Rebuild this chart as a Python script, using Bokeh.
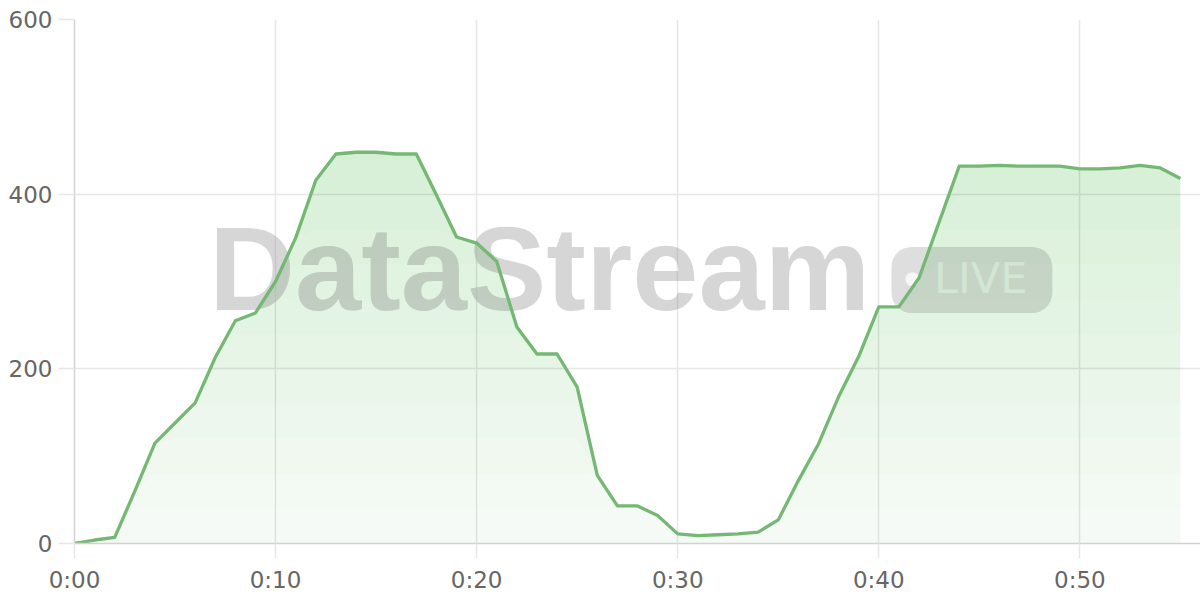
import numpy as np
from bokeh.plotting import figure
from bokeh.models import FixedTicker, Label, BoxAnnotation, ColumnDataSource
from bokeh.embed import file_html
from bokeh.resources import INLINE

# ---- data ----
minutes = list(range(56))
viewers = [0, 4, 7, 60, 115, 138, 161, 213, 255, 264,
           300, 350, 416, 446, 448, 448, 446, 446, 399, 351,
           344, 323, 248, 217, 217, 179, 78, 43, 43, 32,
           11, 9, 10, 11, 13, 27, 72, 114, 168, 214,
           271, 271, 304, 368, 432, 432, 433, 432, 432, 432,
           429, 429, 430, 433, 430, 418]
x_tick_values = [0, 10, 20, 30, 40, 50]
x_tick_labels = ["0:00", "0:10", "0:20", "0:30", "0:40", "0:50"]
y_tick_values = [0, 200, 400, 600]
watermark_text = "DataStream"
badge_text = "LIVE"

# ---- styles ----
LINE = "#74b874"
FILL = "#76b976"
GRID = "#e7e7e7"
AXIS = "#d2d2d2"
LABEL = "#666666"
FONT = "DejaVu Sans"

p = figure(width=1200, height=598, output_backend="svg", toolbar_location=None,
           x_range=(0, 56), y_range=(0, 600),
           min_border_left=74, min_border_top=19, min_border_right=0,
           min_border_bottom=55)
p.outline_line_color = None
p.background_fill_color = "white"
p.border_fill_color = "white"

# grids
p.xgrid.ticker = FixedTicker(ticks=x_tick_values)
p.ygrid.ticker = FixedTicker(ticks=y_tick_values)
for g in (p.xgrid, p.ygrid):
    g.grid_line_color = GRID
    g.grid_line_width = 1.5

# axes
p.xaxis.ticker = FixedTicker(ticks=x_tick_values)
p.xaxis.major_label_overrides = {v: l for v, l in zip(x_tick_values, x_tick_labels)}
p.yaxis.ticker = FixedTicker(ticks=y_tick_values)
for ax in (p.xaxis, p.yaxis):
    ax.axis_line_color = AXIS
    ax.axis_line_width = 1.5
    ax.major_tick_line_color = GRID
    ax.major_tick_line_width = 1.5
    ax.minor_tick_line_color = None
    ax.major_tick_in = 0
    ax.major_label_text_font = FONT
    ax.major_label_text_font_size = "23px"
    ax.major_label_text_color = LABEL
p.xaxis.major_tick_out = 15
p.xaxis.major_label_standoff = 8
p.yaxis.major_tick_out = 16
p.yaxis.major_label_standoff = 6

# ---- watermark (decoration, under the data) ----
wm = Label(x=6.69, y=315, text=watermark_text, text_font="Liberation Sans",
           text_font_style="bold", text_font_size="119px",
           text_color="#808080", text_alpha=0.32,
           text_baseline="alphabetic", text_align="left", level="underlay")
p.add_layout(wm)
badge = BoxAnnotation(left=40.63, right=48.63, bottom=264, top=339.6,
                      fill_color="#808080", fill_alpha=0.26, line_color=None,
                      border_radius=20, level="underlay")
p.add_layout(badge)
live = Label(x=42.75, y=304, text=badge_text, text_font=FONT,
             text_font_size="43px", text_color="white", text_alpha=0.6,
             text_baseline="alphabetic", text_align="left", level="underlay")
p.add_layout(live)
p.scatter(x=[41.67], y=[302.5], size=14, fill_color="white", fill_alpha=0.75,
          line_color=None)

# ---- gradient area fill (stacked translucent layers) ----
xs = np.array(minutes, dtype=float)
vs = np.array(viewers, dtype=float)
p.varea(x=xs, y1=np.zeros_like(vs), y2=vs, fill_color=FILL, fill_alpha=0.065)
for level in np.arange(40, 600, 40):
    lo = np.minimum(vs, level)
    if np.all(lo >= vs):
        continue
    p.varea(x=xs, y1=lo, y2=vs, fill_color=FILL, fill_alpha=0.02)

# ---- line ----
src = ColumnDataSource(dict(x=minutes, y=viewers))
p.line("x", "y", source=src, line_color=LINE, line_width=3.3, line_join="round")

open("out.html", "w").write(file_html(p, INLINE))
